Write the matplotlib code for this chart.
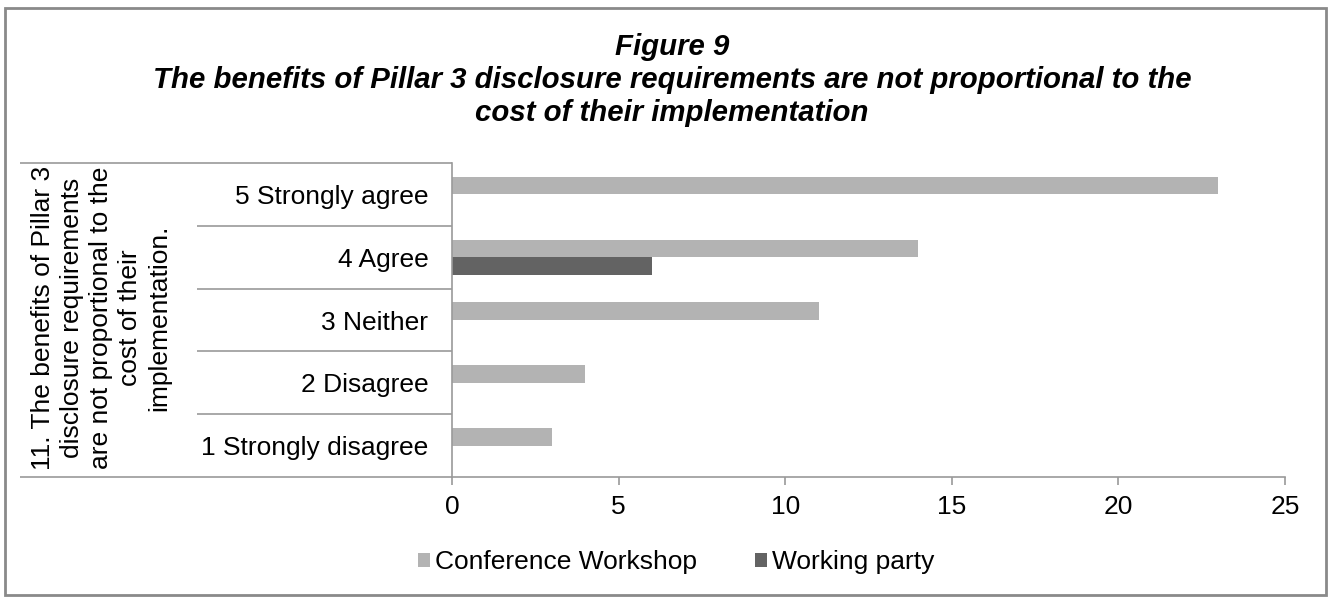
import matplotlib.pyplot as plt
import matplotlib.transforms as mtransforms
from matplotlib.patches import Rectangle

plt.rcParams['font.family'] = ['Liberation Sans', 'DejaVu Sans']

# data (bottom to top)
categories = ['1 Strongly disagree', '2 Disagree', '3 Neither', '4 Agree', '5 Strongly agree']
conference = [3, 4, 11, 14, 23]
working_party = [0, 0, 0, 6, 0]
group_label = ('11. The benefits of Pillar 3\ndisclosure requirements\n'
               'are not proportional to the\ncost of their\nimplementation.')

light = '#b3b3b3'
dark = '#636363'
line_col = '#9a9a9a'

fig = plt.figure(figsize=(13.35, 5.97), dpi=100)
ax = fig.add_axes([452 / 1335, 1 - 477 / 597, 833 / 1335, 314 / 597])

y = list(range(len(categories)))
h = 0.28
ax.barh([v + h / 2 for v in y], conference, height=h, color=light, label='Conference Workshop')
ax.barh([v - h / 2 for v in y], working_party, height=h, color=dark, label='Working party')

ax.set_xlim(0, 25)
ax.set_ylim(-0.5, len(categories) - 0.5)
ax.set_xticks(range(0, 26, 5))
ax.set_yticks(y)
ax.set_yticklabels(categories)
ax.tick_params(axis='y', length=0, pad=17, labelsize=19)
ax.tick_params(axis='x', length=6, width=1.2, color=line_col, pad=7, labelsize=19)

for s in ['top', 'right']:
    ax.spines[s].set_visible(False)
for s in ['left', 'bottom']:
    ax.spines[s].set_color(line_col)
    ax.spines[s].set_linewidth(1.2)

# category separators on the left
trans = mtransforms.blended_transform_factory(ax.transAxes, ax.transData)
ax.hlines([v + 0.5 for v in y[:-1]], -0.306, 0, transform=trans, colors=line_col, lw=1.2, clip_on=False)
ax.hlines([-0.5, len(categories) - 0.5], -0.5186, 0, transform=trans, colors=line_col, lw=1.2, clip_on=False)

# rotated group label
fig.text(101 / 1335, 1 - 318 / 597, group_label, rotation=90, ha='center', va='center',
         multialignment='center', fontsize=19, linespacing=1.26)

# title
fig.text(672 / 1335, 1 - 80 / 597,
         'Figure 9\nThe benefits of Pillar 3 disclosure requirements are not proportional to the\n'
         'cost of their implementation',
         ha='center', va='center', fontsize=21.2, fontweight='bold', fontstyle='italic', linespacing=1.22)

fig.legend(loc='center', bbox_to_anchor=(676 / 1335, 1 - 562 / 597), ncol=2, frameon=False,
           fontsize=19, handlelength=0.45, handleheight=0.45, handletextpad=0.2, columnspacing=2.2)

# outer border
fig.patches.append(Rectangle((5 / 1335, 2 / 597), 1321 / 1335, 587 / 597, transform=fig.transFigure,
                             fill=False, edgecolor='#8a8a8a', lw=2))

fig.savefig('out.png', dpi=100)
